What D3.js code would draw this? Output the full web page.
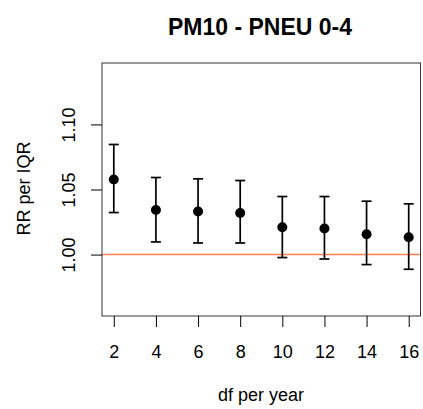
<!DOCTYPE html>
<html><head><meta charset="utf-8">
<script src="https://cdn.jsdelivr.net/npm/d3@7"></script>
<style>body{margin:0;background:#fff;} text{font-family:"Liberation Sans",Arial,sans-serif;}</style>
</head><body>
<svg id="c" width="423" height="409"></svg>
<script>
const dfs = [2, 4, 6, 8, 10, 12, 14, 16];
const rr = [1.0577, 1.0343, 1.0331, 1.0320, 1.0210, 1.0200, 1.0156, 1.0133];
const lower = [1.0323, 1.0097, 1.0089, 1.0089, 0.9977, 0.9966, 0.9923, 0.9887];
const upper = [1.0846, 1.0592, 1.0582, 1.0569, 1.0446, 1.0446, 1.0410, 1.0390];
const yTicks = [1.00, 1.05, 1.10];

const svg = d3.select("#c");
const L = 102, R = 420.5, T = 63, B = 316;
const x = d3.scaleLinear().domain([1.44, 16.56]).range([L, R]);
const y = d3.scaleLinear().domain([0.9528, 1.1472]).range([B, T]);
const FS = 18;

// reference line
svg.append("line").attr("x1", L).attr("x2", R).attr("y1", y(1)).attr("y2", y(1))
  .attr("stroke", "#FF7F50").attr("stroke-width", 1.5);

// error bars
const g = svg.append("g");
dfs.forEach((d, i) => {
  g.append("line").attr("x1", x(d)).attr("x2", x(d)).attr("y1", y(lower[i])).attr("y2", y(upper[i]))
    .attr("stroke", "#000").attr("stroke-width", 1.7);
  [lower[i], upper[i]].forEach(v => {
    g.append("line").attr("x1", x(d) - 5).attr("x2", x(d) + 5).attr("y1", y(v)).attr("y2", y(v))
      .attr("stroke", "#000").attr("stroke-width", 1.7);
  });
  g.append("circle").attr("cx", x(d)).attr("cy", y(rr[i])).attr("r", 5).attr("fill", "#000");
});

// box
svg.append("rect").attr("x", L).attr("y", T).attr("width", R - L).attr("height", B - T)
  .attr("fill", "none").attr("stroke", "#333").attr("stroke-width", 1);

// x axis
const xa = svg.append("g").attr("transform", `translate(0,${B})`)
  .call(d3.axisBottom(x).tickValues(dfs).tickSize(11).tickFormat(d3.format("d")));
xa.select(".domain").remove();
xa.selectAll("line").attr("stroke", "#000").attr("stroke-width", 1);
xa.selectAll("text").attr("font-size", FS).attr("fill", "#000")
  .attr("font-family", "Liberation Sans, Arial, sans-serif")
  .attr("y", 42).attr("dy", 0);

// y axis
const ya = svg.append("g").attr("transform", `translate(${L},0)`)
  .call(d3.axisLeft(y).tickValues(yTicks).tickSize(11).tickFormat(d3.format(".2f")));
ya.select(".domain").remove();
ya.selectAll("line").attr("stroke", "#000").attr("stroke-width", 1);
ya.selectAll("text").attr("font-size", FS).attr("fill", "#000")
  .attr("font-family", "Liberation Sans, Arial, sans-serif")
  .attr("text-anchor", "middle").attr("x", 0).attr("dy", 0)
  .attr("transform", `translate(-27,0) rotate(-90)`);

// titles
svg.append("text").attr("x", 260).attr("y", 35).attr("text-anchor", "middle")
  .attr("font-size", 23).attr("font-weight", "bold").text("PM10 - PNEU 0-4");
svg.append("text").attr("x", 261).attr("y", 401).attr("text-anchor", "middle")
  .attr("font-size", FS).text("df per year");
svg.append("text").attr("transform", `translate(30,188.5) rotate(-90)`).attr("text-anchor", "middle")
  .attr("font-size", FS).text("RR per IQR");
</script>
</body></html>
